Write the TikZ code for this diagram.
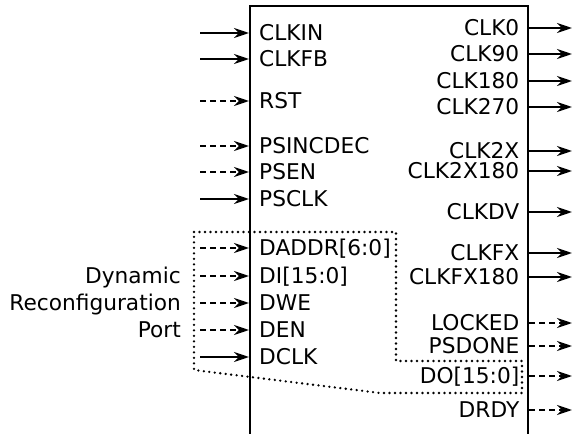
\documentclass[tikz,border=0pt]{standalone}
\usepackage{fontspec}
\setmainfont{DejaVu Sans}
\usetikzlibrary{arrows.meta}
\begin{document}
\begin{tikzpicture}[x=1pt,y=-1pt,
  font=\fontsize{21.7}{26}\selectfont,
  sig/.style={line width=2.2pt,-{Stealth[length=15pt,width=10pt,inset=5pt]}},
  dsig/.style={sig,dash pattern=on 6pt off 4pt},
  lbl/.style={inner sep=0pt,anchor=base west},
  rlbl/.style={inner sep=0pt,anchor=base east},
  dots/.style={line width=2.6pt,line cap=round,dash pattern=on 0pt off 5.5pt}]
\useasboundingbox (0,0) rectangle (574,434);
% block outline (open at the bottom)
\coordinate (bl) at (250,434);
\coordinate (tl) at (250,6);
\coordinate (tr) at (528,6);
\coordinate (br) at (528,434);
\draw[line width=2.2pt] (bl) -- (tl) -- (tr) -- (br);
% left solid inputs
\foreach \t/\y [count=\i] in {CLKIN/33,CLKFB/59,PSCLK/199,DCLK/357}{
  \coordinate (ls\i) at (200,\y);
  \coordinate (lp\i) at (249,\y);
  \node[lbl] (ln\i) at (259,\y+7.9) {\t};
  \draw[sig] (ls\i) -- (lp\i);
}
% left dashed inputs
\foreach \t/\y [count=\i] in {RST/101,PSINCDEC/146,PSEN/172,{DADDR[6:0]}/248,{DI[15:0]}/276,DWE/303,DEN/330}{
  \coordinate (lds\i) at (200,\y);
  \coordinate (ldp\i) at (249,\y);
  \node[lbl] (ldn\i) at (259,\y+7.9) {\t};
  \draw[dsig] (lds\i) -- (ldp\i);
}
% right solid outputs
\foreach \t/\y [count=\i] in {CLK0/28,CLK90/54,CLK180/81,CLK270/107,CLK2X/151,CLK2X180/171,CLKDV/212,CLKFX/253,CLKFX180/277}{
  \coordinate (rp\i) at (529,\y);
  \coordinate (re\i) at (572,\y);
  \node[rlbl] (rn\i) at (519.5,\y+7.9) {\t};
  \draw[sig] (rp\i) -- (re\i);
}
% right dashed outputs
\foreach \t/\y [count=\i] in {LOCKED/323,PSDONE/346,{DO[15:0]}/376,DRDY/410}{
  \coordinate (rdp\i) at (529,\y);
  \coordinate (rde\i) at (572,\y);
  \node[rlbl] (rdn\i) at (519.5,\y+7.9) {\t};
  \draw[dsig] (rdp\i) -- (rde\i);
}
% dynamic reconfiguration port grouping
\coordinate (d1) at (194,232);
\coordinate (d2) at (396,232);
\coordinate (d3) at (396,361);
\coordinate (d4) at (522,361);
\coordinate (d5) at (522,393);
\coordinate (d6) at (380,393);
\coordinate (d7) at (194,370);
\draw[dots] (d1) -- (d2) -- (d3) -- (d4) -- (d5) -- (d6) -- (d7) -- cycle;
\node[rlbl] (drp1) at (181,276+7.9) {Dynamic};
\node[rlbl] (drp2) at (181,303+7.9) {Reconfiguration};
\node[rlbl] (drp3) at (181,330+7.9) {Port};
\end{tikzpicture}
\end{document}
